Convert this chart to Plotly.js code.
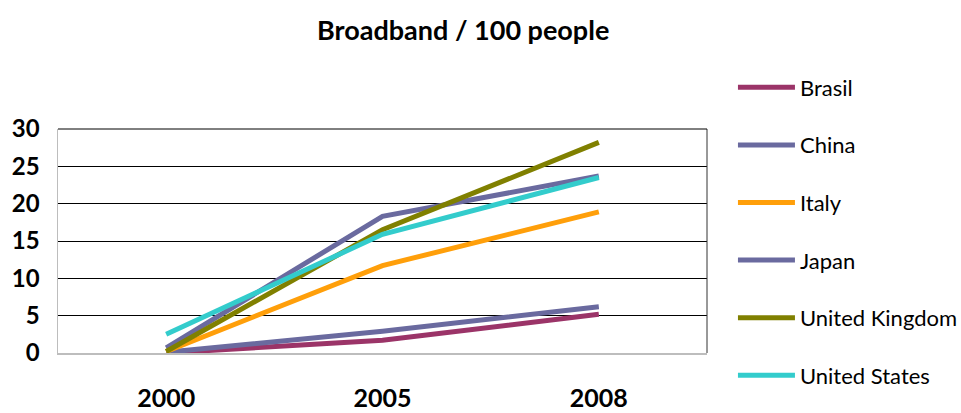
<!DOCTYPE html>
<html><head><meta charset="utf-8">
<script src="https://cdn.plot.ly/plotly-3.0.1.min.js"></script>
<style>html,body{margin:0;padding:0;background:#fff}</style>
</head><body>
<div id="chart" style="width:961px;height:413px"></div>
<script>
const years = ['2000', '2005', '2008'];
const brasil = [0.0, 1.7, 5.2];
const china = [0.1, 2.9, 6.2];
const italy = [0.2, 11.7, 18.9];
const japan = [0.7, 18.3, 23.7];
const uk = [0.2, 16.5, 28.2];
const us = [2.5, 15.9, 23.5];
const names = ['Brasil', 'China', 'Italy', 'Japan', 'United Kingdom', 'United States'];
const colors = ['#9B3468', '#6A6A9F', '#FF9F0A', '#6A6A9F', '#808000', '#33CCCC'];
const series = [brasil, china, italy, japan, uk, us];
const yTicks = [0, 5, 10, 15, 20, 25, 30];

const font = 'Lato, "Open Sans", sans-serif';
const traces = series.map((vals, i) => ({
  x: years, y: vals, name: names[i], type: 'scatter', mode: 'lines',
  line: {color: colors[i], width: 5}, legendgroup: 'g' + i
}));

const layout = {
  width: 961, height: 413,
  margin: {l: 58, r: 254, t: 129, b: 60, autoexpand: false},
  paper_bgcolor: '#fff', plot_bgcolor: '#fff',
  title: {text: '<b>Broadband / 100 people</b>', x: 0.482, xref: 'container', xanchor: 'center', y: 0.927, yanchor: 'middle',
          font: {family: font, size: 27, color: '#000'}},
  xaxis: {type: 'category', range: [-0.5, 2.5], showgrid: false, showline: true, linecolor: '#BDBDBD', linewidth: 1.5,
          ticks: '', ticklabelstandoff: 22, tickfont: {family: font, size: 25, color: '#000', weight: 'bold'}},
  yaxis: {range: [0, 30], tickvals: yTicks, showgrid: true, gridcolor: '#000', gridwidth: 1, zeroline: false,
          showline: true, linecolor: '#BDBDBD', linewidth: 1.5, ticks: '', ticklabelstandoff: 12,
          tickfont: {family: font, size: 24, color: '#000', weight: 'bold'}},
  showlegend: true,
  legend: {xref: 'container', yref: 'container', x: 0.7627, xanchor: 'left', y: 0.839, yanchor: 'top',
           traceorder: 'grouped', tracegroupgap: 26,
           itemwidth: 57, maxheight: 400, font: {family: font, size: 22, color: '#000'}, bgcolor: 'rgba(0,0,0,0)'},
  shapes: [
    {type: 'line', xref: 'paper', yref: 'paper', x0: 1, x1: 1, y0: 0, y1: 1, line: {color: '#333', width: 1}},
    {type: 'line', xref: 'paper', yref: 'paper', x0: 0, x1: 1, y0: 1, y1: 1, line: {color: '#000', width: 1}}
  ]
};
Plotly.newPlot('chart', traces, layout, {displayModeBar: false, staticPlot: true});
</script>
</body></html>
